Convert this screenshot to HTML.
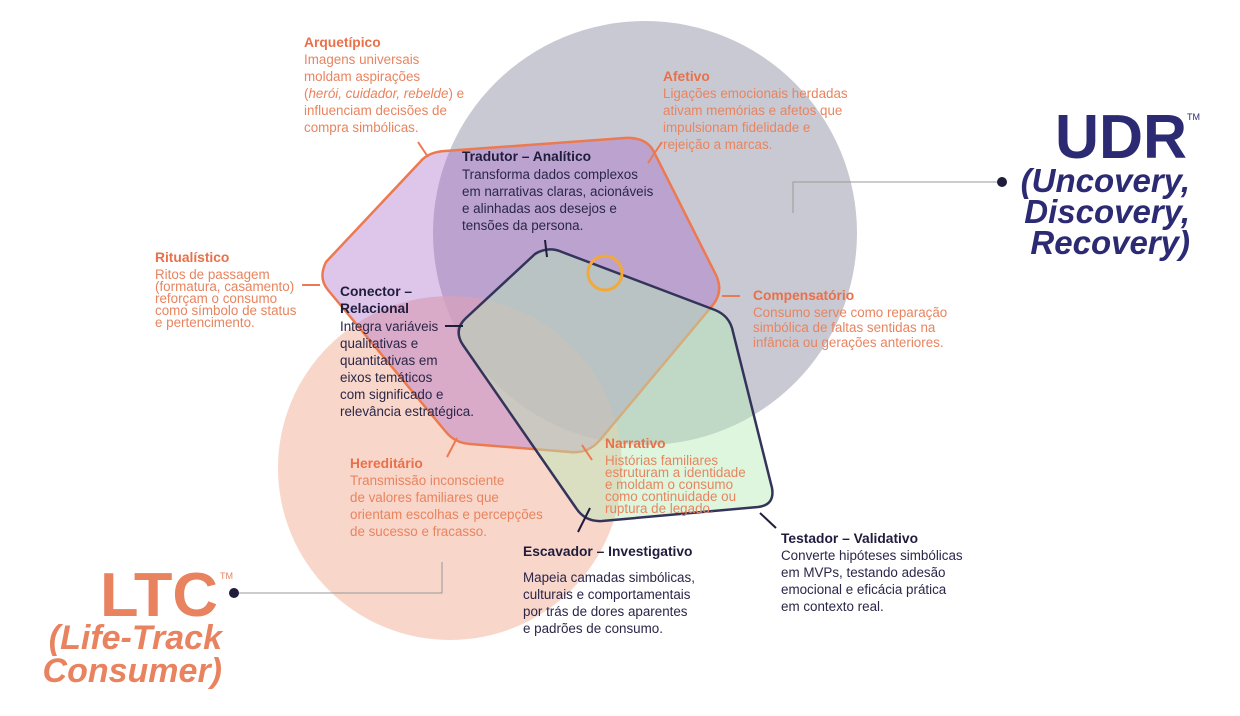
<!DOCTYPE html>
<html><head><meta charset="utf-8"><style>
html,body{margin:0;padding:0;background:#fff;}
svg{display:block;}
text{font-family:"Liberation Sans",sans-serif;}
.o{fill:#e8845f;font-size:13.4px;}
.ob{fill:#e8704a;font-size:13.8px;font-weight:bold;}
.d{fill:#2a2648;font-size:13.4px;}
.db{fill:#1f1c3c;font-size:13.8px;font-weight:bold;}
</style></head><body>
<svg width="1240" height="716" viewBox="0 0 1240 716" xmlns="http://www.w3.org/2000/svg">
<circle cx="645" cy="233" r="212" fill="#c9c9d3"/>
<circle cx="450" cy="468" r="172" fill="#f7c4b4" fill-opacity="0.7"/>
<path d="M445,151 L625,138 Q645,137 653,150 L716,275 Q724,292 712,306 L600,440 Q588,454 570,452 L470,444 Q455,443 446,432 L328,290 Q318,278 326,262 L420,162 Q428,152 445,151 Z" fill="#a866c8" fill-opacity="0.38" stroke="#ec7a50" stroke-width="2.5"/>
<path d="M535,254 Q548,246 562,252 L715,310 Q730,316 733,332 L772,488 Q775,505 758,507 L602,521 Q585,522 576,508 L463,345 Q453,330 466,318 Z" fill="#b5ecb5" fill-opacity="0.45" stroke="#34345a" stroke-width="2.5"/>
<circle cx="605" cy="273" r="17" fill="none" stroke="#f2a93a" stroke-width="3"/>
<g stroke="#ec7a50" stroke-width="2">
<line x1="418" y1="142" x2="428" y2="157"/>
<line x1="648" y1="163" x2="662" y2="142"/>
<line x1="302" y1="285" x2="320" y2="285"/>
<line x1="722" y1="296" x2="740" y2="296"/>
<line x1="457" y1="438" x2="447" y2="457"/>
<line x1="582" y1="445" x2="592" y2="460"/>
</g>
<g stroke="#1f1c3c" stroke-width="2">
<line x1="545" y1="240" x2="547" y2="257"/>
<line x1="445" y1="326" x2="463" y2="326"/>
<line x1="590" y1="508" x2="578" y2="532"/>
<line x1="760" y1="513" x2="776" y2="528"/>
</g>
<g stroke="#999" stroke-width="1" fill="none">
<polyline points="793,213 793,182 1000,182"/>
<polyline points="233,593 442,593 442,562"/>
</g>
<circle cx="1002" cy="182" r="5" fill="#1f1c3c"/>
<circle cx="234" cy="593" r="5" fill="#1f1c3c"/>

<text class="ob" x="304" y="47">Arquetípico</text>
<text class="o" x="304" y="64">Imagens universais</text>
<text class="o" x="304" y="81">moldam aspirações</text>
<text class="o" x="304" y="98">(<tspan font-style="italic">herói, cuidador, rebelde</tspan>) e</text>
<text class="o" x="304" y="115">influenciam decisões de</text>
<text class="o" x="304" y="132">compra simbólicas.</text>

<text class="ob" x="663" y="81">Afetivo</text>
<text class="o" x="663" y="98">Ligações emocionais herdadas</text>
<text class="o" x="663" y="115">ativam memórias e afetos que</text>
<text class="o" x="663" y="132">impulsionam fidelidade e</text>
<text class="o" x="663" y="149">rejeição a marcas.</text>

<text class="db" x="462" y="161">Tradutor – Analítico</text>
<text class="d" x="462" y="179">Transforma dados complexos</text>
<text class="d" x="462" y="196">em narrativas claras, acionáveis</text>
<text class="d" x="462" y="213">e alinhadas aos desejos e</text>
<text class="d" x="462" y="230">tensões da persona.</text>

<text class="ob" x="155" y="262">Ritualístico</text>
<text class="o" x="155" y="279">Ritos de passagem</text>
<text class="o" x="155" y="291">(formatura, casamento)</text>
<text class="o" x="155" y="303">reforçam o consumo</text>
<text class="o" x="155" y="315">como símbolo de status</text>
<text class="o" x="155" y="327">e pertencimento.</text>

<text class="db" x="340" y="296">Conector –</text>
<text class="db" x="340" y="313">Relacional</text>
<text class="d" x="340" y="331">Integra variáveis</text>
<text class="d" x="340" y="348">qualitativas e</text>
<text class="d" x="340" y="365">quantitativas em</text>
<text class="d" x="340" y="382">eixos temáticos</text>
<text class="d" x="340" y="399">com significado e</text>
<text class="d" x="340" y="416">relevância estratégica.</text>

<text class="ob" x="753" y="300">Compensatório</text>
<text class="o" x="753" y="317">Consumo serve como reparação</text>
<text class="o" x="753" y="332">simbólica de faltas sentidas na</text>
<text class="o" x="753" y="347">infância ou gerações anteriores.</text>

<text class="ob" x="605" y="448">Narrativo</text>
<text class="o" x="605" y="465">Histórias familiares</text>
<text class="o" x="605" y="477">estruturam a identidade</text>
<text class="o" x="605" y="489">e moldam o consumo</text>
<text class="o" x="605" y="501">como continuidade ou</text>
<text class="o" x="605" y="513">ruptura de legado.</text>

<text class="ob" x="350" y="468">Hereditário</text>
<text class="o" x="350" y="485">Transmissão inconsciente</text>
<text class="o" x="350" y="502">de valores familiares que</text>
<text class="o" x="350" y="519">orientam escolhas e percepções</text>
<text class="o" x="350" y="536">de sucesso e fracasso.</text>

<text class="db" x="523" y="556">Escavador – Investigativo</text>
<text class="d" x="523" y="582">Mapeia camadas simbólicas,</text>
<text class="d" x="523" y="599">culturais e comportamentais</text>
<text class="d" x="523" y="616">por trás de dores aparentes</text>
<text class="d" x="523" y="633">e padrões de consumo.</text>

<text class="db" x="781" y="543">Testador – Validativo</text>
<text class="d" x="781" y="560">Converte hipóteses simbólicas</text>
<text class="d" x="781" y="577">em MVPs, testando adesão</text>
<text class="d" x="781" y="594">emocional e eficácia prática</text>
<text class="d" x="781" y="611">em contexto real.</text>

<text x="1055" y="158" font-size="62" font-weight="bold" fill="#2c2a72" textLength="132" lengthAdjust="spacingAndGlyphs">UDR</text>
<text x="1187" y="120" font-size="9" fill="#2c2a72">TM</text>
<text x="1190" y="192" text-anchor="end" font-size="33" font-weight="bold" font-style="italic" fill="#2c2a72">(Uncovery,</text>
<text x="1190" y="223" text-anchor="end" font-size="33" font-weight="bold" font-style="italic" fill="#2c2a72">Discovery,</text>
<text x="1190" y="254" text-anchor="end" font-size="33" font-weight="bold" font-style="italic" fill="#2c2a72">Recovery)</text>

<text x="100" y="616" font-size="62" font-weight="bold" fill="#e8825f" textLength="118" lengthAdjust="spacingAndGlyphs">LTC</text>
<text x="220" y="579" font-size="9" fill="#e8825f">TM</text>
<text x="222" y="649" text-anchor="end" font-size="34" font-weight="bold" font-style="italic" fill="#e8825f">(Life-Track</text>
<text x="222" y="682" text-anchor="end" font-size="34" font-weight="bold" font-style="italic" fill="#e8825f">Consumer)</text>
</svg>
</body></html>
